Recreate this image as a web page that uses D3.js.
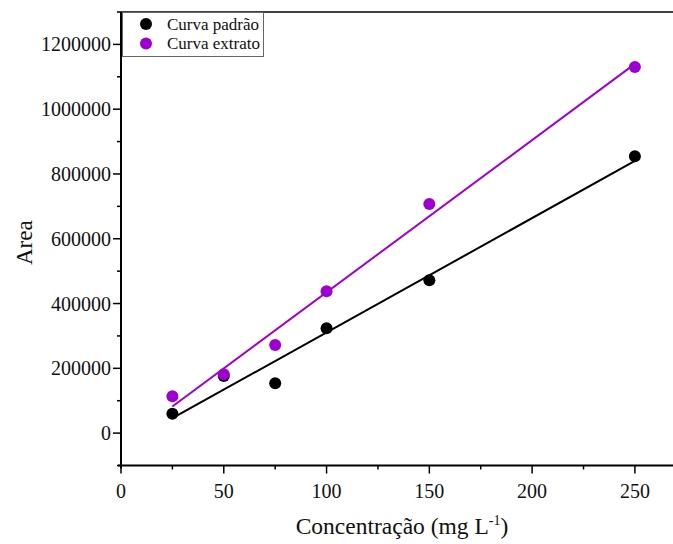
<!DOCTYPE html>
<html>
<head>
<meta charset="utf-8">
<script src="https://cdn.jsdelivr.net/npm/d3@7"></script>
<style>
  html, body { margin: 0; padding: 0; background: #fff; }
  svg { display: block; }
  text { font-family: "Liberation Serif", "Times New Roman", serif; fill: #111; }
</style>
</head>
<body>
<svg id="chart" width="673" height="544"></svg>
<script>
// Calibration data: concentration (mg/L) vs. peak area
const concentrations = [25, 50, 75, 100, 150, 250];
const areaPadrao   = [60000, 176000, 154000, 324000, 472000, 855000];
const areaExtrato  = [114000, 182000, 272000, 438000, 707000, 1130000];

const seriesNames  = ["Curva padrão", "Curva extrato"];
const seriesColors = ["#000000", "#9e00cf"];

const xTicks = [0, 50, 100, 150, 200, 250];
const yTicks = [0, 200000, 400000, 600000, 800000, 1000000, 1200000];

const svg = d3.select("#chart");

const x = d3.scaleLinear().domain([0, 270]).range([121, 676]);
const y = d3.scaleLinear().domain([-100000, 1300000]).range([465.5, 12]);

// ordinary least-squares fit through each series
function fit(xs, ys) {
  const mx = d3.mean(xs), my = d3.mean(ys);
  let sxy = 0, sxx = 0;
  for (let i = 0; i < xs.length; i++) {
    sxy += (xs[i] - mx) * (ys[i] - my);
    sxx += (xs[i] - mx) * (xs[i] - mx);
  }
  const b = sxy / sxx;
  return { b, a: my - b * mx };
}

const series = [
  { name: seriesNames[0], color: seriesColors[0], values: areaPadrao },
  { name: seriesNames[1], color: seriesColors[1], values: areaExtrato }
];

// frame top line
svg.append("line")
  .attr("x1", x(0)).attr("x2", 676)
  .attr("y1", y(1300000)).attr("y2", y(1300000))
  .attr("stroke", "#000").attr("stroke-width", 1.5);

// fit lines
series.forEach(s => {
  const f = fit(concentrations, s.values);
  const x0 = d3.min(concentrations), x1 = d3.max(concentrations);
  svg.append("line")
    .attr("x1", x(x0)).attr("y1", y(f.a + f.b * x0))
    .attr("x2", x(x1)).attr("y2", y(f.a + f.b * x1))
    .attr("stroke", s.color).attr("stroke-width", 2);
});

// points
series.forEach(s => {
  svg.append("g").selectAll("circle")
    .data(concentrations.map((c, i) => [c, s.values[i]]))
    .join("circle")
    .attr("cx", d => x(d[0]))
    .attr("cy", d => y(d[1]))
    .attr("r", 6)
    .attr("fill", s.color);
});

// x axis
const xAxis = svg.append("g").attr("transform", `translate(0,${y(-100000)})`);
xAxis.append("line")
  .attr("x1", x(0) - 3).attr("x2", 676)
  .attr("stroke", "#000").attr("stroke-width", 2);
xAxis.selectAll(".minor").data(d3.range(25, 270, 50)).join("line")
  .attr("x1", d => x(d)).attr("x2", d => x(d))
  .attr("y1", 0).attr("y2", 4)
  .attr("stroke", "#000").attr("stroke-width", 1.5);
xAxis.selectAll(".major").data(xTicks).join("line")
  .attr("x1", d => x(d)).attr("x2", d => x(d))
  .attr("y1", 0).attr("y2", 8)
  .attr("stroke", "#000").attr("stroke-width", 1.5);
xAxis.selectAll("text").data(xTicks).join("text")
  .attr("x", d => x(d)).attr("y", 32)
  .attr("text-anchor", "middle")
  .attr("font-size", 20)
  .text(d => d);

// y axis
const yAxis = svg.append("g").attr("transform", `translate(${x(0)},0)`);
yAxis.append("line")
  .attr("y1", y(1300000)).attr("y2", y(-100000) + 3)
  .attr("stroke", "#000").attr("stroke-width", 2);
yAxis.selectAll(".minor").data(d3.range(-100000, 1300001, 200000)).join("line")
  .attr("x1", 0).attr("x2", -4)
  .attr("y1", d => y(d)).attr("y2", d => y(d))
  .attr("stroke", "#000").attr("stroke-width", 1.5);
yAxis.selectAll(".major").data(yTicks).join("line")
  .attr("x1", 0).attr("x2", -8)
  .attr("y1", d => y(d)).attr("y2", d => y(d))
  .attr("stroke", "#000").attr("stroke-width", 1.5);
yAxis.selectAll("text").data(yTicks).join("text")
  .attr("x", -10).attr("y", d => y(d))
  .attr("dy", "0.35em")
  .attr("text-anchor", "end")
  .attr("font-size", 20)
  .text(d => d);

// axis titles
svg.append("text")
  .attr("transform", `translate(32,${y(600000) + 4}) rotate(-90)`)
  .attr("text-anchor", "middle")
  .attr("font-size", 23)
  .text("Area");

const xt = svg.append("text")
  .attr("x", 402).attr("y", 534)
  .attr("text-anchor", "middle")
  .attr("font-size", 23.5);
xt.append("tspan").text("Concentração (mg L");
xt.append("tspan").attr("dy", -9).attr("font-size", 14).text("-1");
xt.append("tspan").attr("dy", 9).text(")");

// legend
const lg = svg.append("g");
lg.append("rect")
  .attr("x", 122.5).attr("y", 12.5).attr("width", 141).attr("height", 44)
  .attr("fill", "#fff").attr("stroke", "#666").attr("stroke-width", 1);
series.forEach((s, i) => {
  lg.append("circle")
    .attr("cx", 146).attr("cy", 24 + i * 19.5).attr("r", 6)
    .attr("fill", s.color);
  lg.append("text")
    .attr("x", 167).attr("y", 24 + i * 19.5).attr("dy", "0.35em")
    .attr("font-size", 17)
    .text(s.name);
});
</script>
</body>
</html>
